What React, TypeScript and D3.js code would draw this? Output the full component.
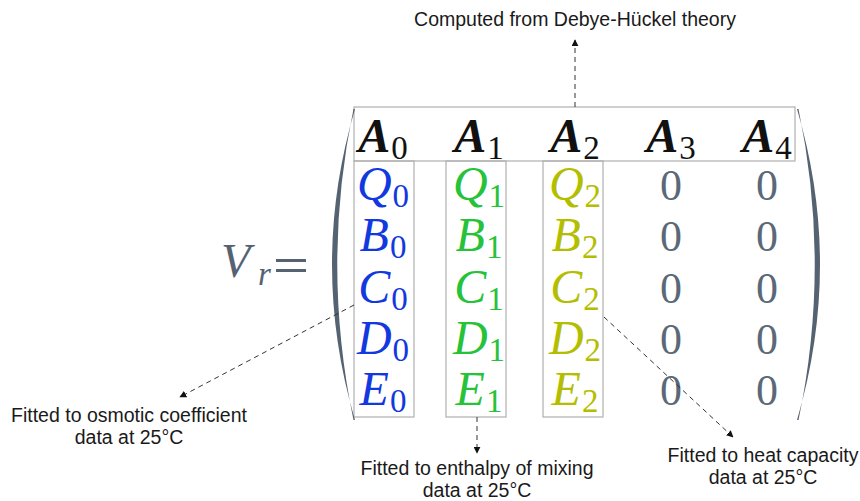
import React from 'react';
import * as d3 from 'd3';

// matrix content
const headerSymbols = ['A', 'A', 'A', 'A', 'A'];
const headerIndex = ['0', '1', '2', '3', '4'];
const rowSymbols = ['Q', 'B', 'C', 'D', 'E'];
const fittedColumns = [0, 1, 2];
const columnColors = ['#1238e0', '#26c23a', '#b4be00', '#5b6878', '#5b6878'];

// annotation texts
const topNote = 'Computed from Debye-Hückel theory';
const osmoticNote = ['Fitted to osmotic coefficient', 'data at 25°C'];
const enthalpyNote = ['Fitted to enthalpy of mixing', 'data at 25°C'];
const heatNote = ['Fitted to heat capacity', 'data at 25°C'];

const W = 860;
const H = 501;
const MATH = '"Liberation Serif"';
const SANS = '"Liberation Sans"';
const GRAY = '#556272';

const Sym: React.FC<{ x: number; y: number; main: string; sub: string; color: string; bold?: boolean }> = ({
  x, y, main, sub, color, bold,
}) => (
  <text x={x} y={y} textAnchor="middle" fill={color} fontSize={48} style={{ fontFamily: MATH }}>
    <tspan style={{ fontStyle: 'italic', fontWeight: bold ? 'bold' : 'normal' }}>{main}</tspan>
    <tspan fontSize={33} dy={7} dx={1} style={{ fontWeight: 'normal' }}>{sub}</tspan>
  </text>
);

const App: React.FC = () => {
  const x = d3.scalePoint<number>().domain(d3.range(5)).range([383, 767]);
  const y = d3.scalePoint<string>().domain(rowSymbols).range([200, 405]);
  const headerBase = 152;

  const box = { left: 354, right: 795, top: 107, mid: 161, bottom: 417 };
  const colHalf = 30;

  // parentheses as crescents
  const paren = (xEnd: number, bulge: number, thick: number, dir: number) => {
    const p = d3.path();
    const top = 109, bot = 420, midY = (top + bot) / 2;
    p.moveTo(xEnd, top);
    p.quadraticCurveTo(xEnd - dir * bulge * 2, midY, xEnd, bot);
    p.lineTo(xEnd - dir * 1.5, bot);
    p.quadraticCurveTo(xEnd - dir * (bulge - thick) * 2, midY, xEnd - dir * 1.5, top);
    p.closePath();
    return p.toString();
  };

  const arrow = (x1: number, y1: number, x2: number, y2: number, key: string) => (
    <line key={key} x1={x1} y1={y1} x2={x2} y2={y2} stroke="#333" strokeWidth={1}
      strokeDasharray="5,4" markerEnd="url(#head)" />
  );

  const note = (lines: string[], cx: number, base: number, key: string) => (
    <text key={key} x={cx} y={base} textAnchor="middle" style={{ fontFamily: SANS }} fontSize={19.5} fill="#1a1a1a">
      {lines.map((l, i) => (
        <tspan key={i} x={cx} dy={i === 0 ? 0 : 22}>{l}</tspan>
      ))}
    </text>
  );

  return (
    <svg width={W} height={H} style={{ position: 'absolute', left: 0, top: 0, background: '#fff' }}>
      <defs>
        <marker id="head" viewBox="0 0 10 10" refX={9} refY={5} markerWidth={7} markerHeight={7}
          orient="auto" markerUnits="userSpaceOnUse">
          <path d="M0,0 L10,5 L0,10 z" fill="#111" />
        </marker>
      </defs>

      {/* boxes */}
      <rect x={box.left} y={box.top} width={box.right - box.left} height={box.mid - box.top}
        fill="none" stroke="#b0b0b0" strokeWidth={1.2} />
      {fittedColumns.map(c => (
        <rect key={c} x={x(c)! - colHalf + (c === 0 ? 1 : c === 1 ? -3 : -2)} y={box.mid}
          width={colHalf * 2} height={box.bottom - box.mid}
          fill="none" stroke="#b0b0b0" strokeWidth={1.2} />
      ))}

      {/* parentheses */}
      <path d={paren(355, 23, 6, 1)} fill={GRAY} />
      <path d={paren(797, 23, 6, -1)} fill={GRAY} />

      {/* V_r = */}
      <text x={221} y={277} fill={GRAY} fontSize={48}
        style={{ fontFamily: MATH, fontStyle: 'italic' }}>V</text>
      <text x={258} y={285} fill={GRAY} fontSize={33}
        style={{ fontFamily: MATH, fontStyle: 'italic' }}>r</text>
      <rect x={276} y={259} width={30} height={3} fill={GRAY} />
      <rect x={276} y={269} width={30} height={3} fill={GRAY} />

      {/* header row */}
      {headerSymbols.map((s, c) => (
        <Sym key={'h' + c} x={x(c)!} y={headerBase} main={s} sub={headerIndex[c]} color="#111" bold />
      ))}

      {/* body */}
      {rowSymbols.map(r =>
        d3.range(5).map(c =>
          c < 3 ? (
            <Sym key={r + c} x={x(c)!} y={y(r)!} main={r} sub={headerIndex[c]} color={columnColors[c]} />
          ) : (
            <text key={r + c} x={x(c)!} y={y(r)!} textAnchor="middle" fill={columnColors[c]}
              fontSize={44} style={{ fontFamily: MATH }}>0</text>
          ),
        ),
      )}

      {/* annotation arrows */}
      {arrow(575, box.top, 575, 40, 'a1')}
      {arrow(box.left, 305, 180, 397, 'a2')}
      {arrow(477, box.bottom, 477, 453, 'a3')}
      {arrow(604, 317, 733, 437, 'a4')}

      {/* annotation text */}
      <text x={575} y={26} textAnchor="middle" style={{ fontFamily: SANS }} fontSize={19.5} fill="#1a1a1a">{topNote}</text>
      {note(osmoticNote, 129, 422, 'n1')}
      {note(enthalpyNote, 477, 475, 'n2')}
      {note(heatNote, 763, 462, 'n3')}
    </svg>
  );
};

export default App;
